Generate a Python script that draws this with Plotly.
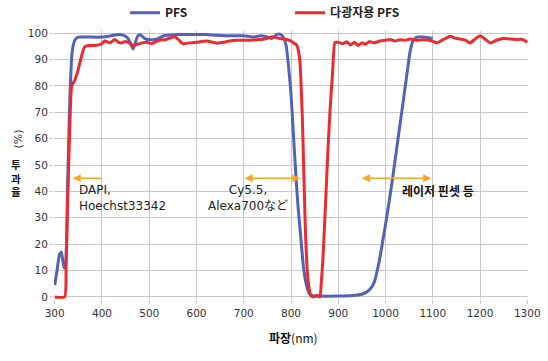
import plotly.graph_objects as go

# ---- data ----
pfs_nm = [300, 305, 310, 314, 317, 320, 323, 327, 332, 337, 343, 350, 370, 400, 420, 435, 448, 455,
          462, 466, 470, 476, 482, 490, 500, 510, 520, 530, 545, 560, 580, 600, 620, 640, 660, 680,
          700, 720, 735, 750, 760, 770, 778, 785, 790, 795, 800, 805, 810, 815, 820, 826, 832, 838,
          845, 860, 900, 930, 950, 965, 975, 985, 995, 1005, 1015, 1025, 1035, 1045, 1052, 1058,
          1066, 1080, 1100]
pfs_t = [4.5, 10, 16, 17, 14, 11, 12, 40, 75, 93, 97.5, 98.5, 98.5, 98.5, 99, 99.5, 99, 98,
         95.5, 94, 96, 99, 99.3, 98, 97.5, 97.5, 98, 99, 99.3, 99.5, 99.5, 99.5, 99.5, 99.2, 99, 99,
         99, 98.5, 99, 98.5, 98, 99.5, 99.5, 98, 95, 87, 77, 62, 47, 34, 24, 12, 5, 1.5,
         0.5, 0.3, 0.3, 0.5, 1, 2.5, 5, 12, 22, 33, 45, 58, 71, 84, 93, 97,
         98.5, 98.5, 98]

mp_nm = [300, 321, 324, 328, 332, 336, 342, 348, 355, 363, 372, 385, 398, 406, 417, 427, 435, 441,
         450, 458, 466, 475, 485, 494, 505, 515, 522, 535, 545, 554, 562, 571, 585, 600, 610, 621,
         635, 645, 657, 670, 685, 700, 715, 728, 745, 762, 775, 790, 800, 806, 812, 816, 819, 821,
         824, 827, 830, 833, 837, 842, 848, 855, 861, 864, 868, 873, 878, 883, 888, 893, 900, 910,
         918, 926, 934, 942, 950, 958, 966, 975, 988, 1000, 1009, 1020, 1030, 1042, 1052, 1065,
         1080, 1095, 1109, 1122, 1137, 1148, 1158, 1169, 1179, 1190, 1200, 1210, 1222, 1235, 1249,
         1262, 1275, 1290, 1300]
mp_t = [0, 0, 12, 40, 65, 80, 82, 85, 90, 94.7, 95.3, 95.3, 95.8, 97, 96.3, 97.6, 96.5, 96.3,
        96.8, 96.2, 95.3, 95.8, 96.3, 96.5, 96, 96.8, 97.3, 97.6, 98.2, 98.6, 97.5, 96, 96.3, 96.5, 96.8, 97,
        96.5, 96.2, 96.5, 97, 97.3, 97.3, 97.3, 97.5, 97.8, 98.6, 98, 97.6, 97, 96.2, 95.5, 93, 89, 82,
        68, 48, 28, 14, 5, 0.5, 0, 0.5, 0, 5, 16, 35, 55, 72, 85, 96.5, 96.5, 96,
        96.7, 95.5, 96.5, 95.3, 96.3, 95.8, 96.8, 96.3, 97, 97.3, 97.6, 97, 97.5, 97.3, 97.8, 97.3,
        97.5, 97.2, 96.3, 97.5, 98.8, 98, 97.8, 97.3, 96.3, 97.8, 99, 97.8, 96.3, 97.3, 98,
        97.8, 97.6, 97.6, 96.5]

x_ticks = [300, 400, 500, 600, 700, 800, 900, 1000, 1100, 1200, 1300]
y_ticks = [0, 10, 20, 30, 40, 50, 60, 70, 80, 90, 100]

series_names = ["PFS", "다광자용 PFS"]
label_dapi = "DAPI,<br>Hoechst33342"
label_cy = "Cy5.5,<br>Alexa700など"
label_laser = "레이저 핀셋 등"
y_title_stacked = "투<br>과<br>율"
y_title_unit = "(%)"
x_title = "<b>파장</b>(nm)"

BLUE = "#5262B8"
RED = "#EC2B2E"
ORANGE = "#F5A623"
GRID = "#C8C8C8"
FONT = "DejaVu Sans, Noto Sans CJK KR, Noto Sans CJK JP"
KFONT = "Noto Sans CJK KR, DejaVu Sans"

fig = go.Figure()
fig.add_trace(go.Scatter(x=pfs_nm, y=pfs_t, mode="lines", name=series_names[0],
                         line=dict(color=BLUE, width=3, shape="spline", smoothing=0.5)))
fig.add_trace(go.Scatter(x=mp_nm, y=mp_t, mode="lines", name=series_names[1],
                         line=dict(color=RED, width=3, shape="spline", smoothing=0.5)))

ann = []
# arrows
ann.append(dict(x=338, y=45, ax=402, ay=45, xref="x", yref="y", axref="x", ayref="y", text="",
                showarrow=True, arrowhead=2, arrowsize=1, arrowwidth=1.6, arrowcolor=ORANGE))
ann.append(dict(x=702, y=45, ax=823, ay=45, xref="x", yref="y", axref="x", ayref="y", text="",
                showarrow=True, arrowhead=2, startarrowhead=2, arrowside="end+start",
                arrowsize=1, startarrowsize=1, arrowwidth=1.6, arrowcolor=ORANGE))
ann.append(dict(x=950, y=45, ax=1100, ay=45, xref="x", yref="y", axref="x", ayref="y", text="",
                showarrow=True, arrowhead=2, startarrowhead=2, arrowside="end+start",
                arrowsize=1, startarrowsize=1, arrowwidth=1.6, arrowcolor=ORANGE))
# labels
ann.append(dict(x=347, y=37.5, xref="x", yref="y", text=label_dapi, showarrow=False,
                xanchor="left", align="left", font=dict(family=FONT, size=12, color="#222")))
ann.append(dict(x=709, y=37.5, xref="x", yref="y", text=label_cy, showarrow=False,
                xanchor="center", align="center", font=dict(family=FONT, size=12, color="#222")))
ann.append(dict(x=1031, y=40.5, xref="x", yref="y", text=label_laser, showarrow=False,
                xanchor="left", align="left", font=dict(family=KFONT, size=12, color="#111", weight="bold")))
# y-axis title (vertical Korean + rotated (%))
ann.append(dict(x=-0.08, y=45, xref="paper", yref="y", text=y_title_stacked, showarrow=False,
                xanchor="center", yanchor="middle",
                font=dict(family=KFONT, size=10.5, color="#111", weight="bold")))
ann.append(dict(x=-0.074, y=60, xref="paper", yref="y", text=y_title_unit, showarrow=False,
                textangle=-90, xanchor="center", yanchor="middle",
                font=dict(family=FONT, size=11, color="#333")))
# x-axis title
ann.append(dict(x=0.505, y=-0.145, xref="paper", yref="paper", text=x_title, showarrow=False,
                xanchor="center", yanchor="middle",
                font=dict(family=KFONT, size=12, color="#111")))

fig.update_layout(
    width=548, height=361,
    margin=dict(l=54, r=20, t=31, b=62, autoexpand=False),
    paper_bgcolor="white", plot_bgcolor="white",
    font=dict(family=FONT, size=11, color="#333"),
    showlegend=True,
    legend=dict(orientation="h", x=0.15, y=1.068, xanchor="left", yanchor="middle",
                entrywidth=120, entrywidthmode="pixels",
                font=dict(family=KFONT, size=12, color="#222", weight="bold"),
                bgcolor="rgba(0,0,0,0)"),
    annotations=ann,
)
fig.update_xaxes(range=[298.5, 1301.5], tickvals=x_ticks, ticktext=[str(v) for v in x_ticks],
                 showgrid=True, gridcolor=GRID, gridwidth=1, zeroline=False, automargin=False,
                 ticks="outside", ticklen=4, tickcolor=GRID,
                 tickfont=dict(family=FONT, size=10.5, color="#333"), showline=False)
fig.update_yaxes(range=[-0.8, 100.8], tickvals=y_ticks, ticktext=[str(v) for v in y_ticks],
                 showgrid=True, gridcolor=GRID, gridwidth=1, zeroline=False, automargin=False,
                 ticks="outside", ticklen=3, tickcolor=GRID,
                 tickfont=dict(family=FONT, size=10.5, color="#333"), showline=False)

# remove the browser's default 8px body margin so the figure sits at the page origin
fig.write_html("out.html", config={"displayModeBar": False},
               post_script="document.body.style.margin='0';")
